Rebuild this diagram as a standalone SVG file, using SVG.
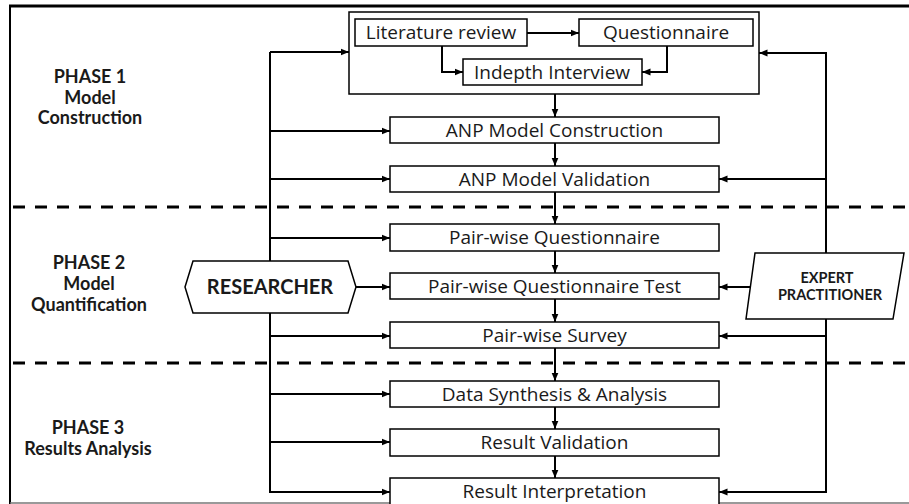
<svg xmlns="http://www.w3.org/2000/svg" width="909" height="504" viewBox="0 0 909 504">
<defs>
<marker id="ah" markerUnits="userSpaceOnUse" markerWidth="9" markerHeight="8" refX="8.5" refY="4" orient="auto">
<path d="M0,0.5 L8.5,4 L0,7.5 z" fill="#000"/>
</marker>
<style>
.box{fill:#fff;stroke:#000;stroke-width:1.5}
.grp{fill:none;stroke:#000;stroke-width:1.5}
.t{font-family:"Open Sans","Noto Sans",sans-serif;font-size:19px;fill:#1a1a1a;text-anchor:middle}
.ph{font-family:Lato,"Open Sans",sans-serif;font-size:18px;font-weight:bold;fill:#1a1a1a;text-anchor:middle}
.c{fill:none;stroke:#000;stroke-width:2}
.a{fill:none;stroke:#000;stroke-width:2;marker-end:url(#ah)}
.dash{stroke:#000;stroke-width:3;stroke-dasharray:12 10}
</style>
</defs>
<rect width="909" height="504" fill="#fff"/>
<g id="frame">
<line x1="9" y1="6" x2="909" y2="6" stroke="#000" stroke-width="3"/>
<line x1="10" y1="5" x2="10" y2="504" stroke="#000" stroke-width="2"/>
<line x1="10" y1="503" x2="909" y2="503" stroke="#777" stroke-width="1.5"/>
<line class="dash" x1="13" y1="207" x2="909" y2="207"/>
<line class="dash" x1="13" y1="363" x2="909" y2="363"/>
</g>
<g id="phase1-label">
<text class="ph" x="90" y="83">PHASE 1</text>
<text class="ph" x="90" y="104">Model</text>
<text class="ph" x="90" y="124">Construction</text>
</g>
<g id="phase2-label">
<text class="ph" x="89" y="269">PHASE 2</text>
<text class="ph" x="89" y="290">Model</text>
<text class="ph" x="89" y="311">Quantification</text>
</g>
<g id="phase3-label">
<text class="ph" x="88" y="434">PHASE 3</text>
<text class="ph" x="88" y="455">Results Analysis</text>
</g>
<g id="literature-group">
<rect class="grp" x="349" y="12" width="410" height="82"/>
</g>
<g id="connectors">
<polyline class="c" points="270,52 270,492"/>
<line class="a" x1="270" y1="52" x2="349" y2="52"/>
<line class="a" x1="270" y1="131" x2="390" y2="131"/>
<line class="a" x1="270" y1="179" x2="390" y2="179"/>
<line class="a" x1="270" y1="238" x2="390" y2="238"/>
<line class="a" x1="270" y1="336" x2="390" y2="336"/>
<line class="a" x1="270" y1="394" x2="390" y2="394"/>
<line class="a" x1="270" y1="442" x2="390" y2="442"/>
<line class="a" x1="269" y1="492" x2="390" y2="492"/>
<line class="a" x1="356" y1="287" x2="390" y2="287"/>
<polyline class="c" points="826,53 826,492"/>
<line class="a" x1="827" y1="53" x2="759" y2="53"/>
<line class="a" x1="826" y1="179" x2="719" y2="179"/>
<line class="a" x1="826" y1="336" x2="719" y2="336"/>
<line class="a" x1="827" y1="492" x2="719" y2="492"/>
<line class="a" x1="752" y1="287" x2="719" y2="287"/>
<line class="a" x1="527" y1="33" x2="579" y2="33"/>
<polyline class="a" points="442,46 442,72 463,72"/>
<polyline class="a" points="667,46 667,72 642,72"/>
<line class="a" x1="555" y1="94" x2="555" y2="117"/>
<line class="a" x1="555" y1="143" x2="555" y2="166"/>
<line class="a" x1="555" y1="192" x2="555" y2="224"/>
<line class="a" x1="555" y1="251" x2="555" y2="273"/>
<line class="a" x1="555" y1="299" x2="555" y2="322"/>
<line class="a" x1="555" y1="348" x2="555" y2="381"/>
<line class="a" x1="555" y1="407" x2="555" y2="429"/>
<line class="a" x1="555" y1="456" x2="555" y2="478"/>
</g>
<g id="literature-review">
<rect class="box" x="355" y="19" width="172" height="27"/>
<text class="t" x="441" y="39">Literature review</text>
</g>
<g id="questionnaire">
<rect class="box" x="579" y="19" width="174" height="27"/>
<text class="t" x="666" y="39">Questionnaire</text>
</g>
<g id="indepth-interview">
<rect class="box" x="463" y="59" width="179" height="26"/>
<text class="t" x="552" y="79">Indepth Interview</text>
</g>
<g id="anp-construction">
<rect class="box" x="390" y="117" width="329" height="26"/>
<text class="t" x="554.5" y="137">ANP Model Construction</text>
</g>
<g id="anp-validation">
<rect class="box" x="390" y="166" width="329" height="26"/>
<text class="t" x="554.5" y="186">ANP Model Validation</text>
</g>
<g id="pw-questionnaire">
<rect class="box" x="390" y="224" width="329" height="27"/>
<text class="t" x="554.5" y="244">Pair-wise Questionnaire</text>
</g>
<g id="pw-questionnaire-test">
<rect class="box" x="390" y="273" width="329" height="26"/>
<text class="t" x="554.5" y="293">Pair-wise Questionnaire Test</text>
</g>
<g id="pw-survey">
<rect class="box" x="390" y="322" width="329" height="26"/>
<text class="t" x="554.5" y="342">Pair-wise Survey</text>
</g>
<g id="data-synthesis">
<rect class="box" x="390" y="381" width="329" height="26"/>
<text class="t" x="554.5" y="401">Data Synthesis &amp; Analysis</text>
</g>
<g id="result-validation">
<rect class="box" x="390" y="429" width="329" height="27"/>
<text class="t" x="554.5" y="449">Result Validation</text>
</g>
<g id="result-interpretation">
<rect class="box" x="390" y="478" width="329" height="30"/>
<text class="t" x="554.5" y="498">Result Interpretation</text>
</g>
<g id="researcher">
<polygon class="box" points="185,287 193,261 348,261 356,287 348,313 193,313"/>
<text class="ph" x="270" y="294" style="font-size:20px">RESEARCHER</text>
</g>
<g id="expert-practitioner">
<polygon class="box" points="755,253 904,253 893,319 746,319"/>
<text class="ph" x="827" y="283" style="font-size:14.5px">EXPERT</text>
<text class="ph" x="830" y="300" style="font-size:14.5px">PRACTITIONER</text>
</g>
</svg>
